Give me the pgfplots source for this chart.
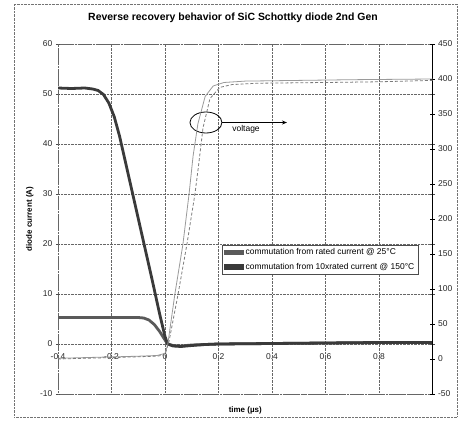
\documentclass[border=0pt]{standalone}
\usepackage{fontspec}
\setmainfont{Liberation Sans}
\usepackage{pgfplots}
\pgfplotsset{compat=1.18}
\usetikzlibrary{arrows.meta}

\definecolor{ratedcol}{HTML}{5A5A5A}
\definecolor{tencol}{HTML}{3A3A3A}
\definecolor{voltcol}{HTML}{9A9A9A}

\pgfplotsset{
  framebox/.style={
    at={(58bp,27bp)}, anchor=south west,
    width=374.5bp, height=350bp, scale only axis,
    xmin=-0.4, xmax=1.0,
    /pgf/number format/assume math mode=true,
    tick label style={font=\fontsize{8.5}{10}\selectfont, text=black!85},
  }
}

\begin{document}
\begin{tikzpicture}
\useasboundingbox (0bp,0bp) rectangle (460bp,421bp);
\draw[black!55, densely dotted] (14bp,4bp) rectangle (457bp,417bp);
\node[font=\fontsize{10.5}{12}\selectfont\bfseries] at (233bp,403bp)
  {Reverse recovery behavior of SiC Schottky diode 2nd Gen};

% diode current (left axis)
\begin{axis}[
  framebox,
  ymin=-10, ymax=60,
  ytick={-10,0,...,60},
  xtick={-0.4,-0.2,0,0.2,0.4,0.6,0.8,1.0},
  xticklabels={-0.4,-0.2,0,0.2,0.4,0.6,0.8,{}},
  xticklabel style={anchor=center, yshift=37bp},
  xtick style={draw=none},
  ytick align=center,
  ytick style={black!70},
  ymajorgrids, xmajorgrids,
  grid style={black!60, densely dotted, line width=0.5bp},
  axis line style={black!60, densely dotted, line width=0.5bp},
  ylabel={diode current (A)},
  ylabel style={at={(axis description cs:-0.075,0.5)}, anchor=center,
    font=\fontsize{8}{10}\selectfont\bfseries},
  xlabel={time (µs)},
  xlabel style={at={(axis description cs:0.5,-0.048)}, anchor=center,
    font=\fontsize{8}{10}\selectfont\bfseries},
  legend style={at={(0.438,0.426)}, anchor=north west,
    draw=black!70, line width=0.5bp, fill=white,
    font=\fontsize{8.5}{10}\selectfont,
    inner sep=1.5bp, row sep=3bp},
  legend cell align=left,
]
\addplot[ratedcol, line width=2.8bp,
  legend image code/.code={\fill[ratedcol] (0bp,-1.5bp) rectangle (17bp,1.5bp);}]
  coordinates {
  (-0.40,5.3) (-0.30,5.3) (-0.20,5.3) (-0.10,5.3) (-0.08,5.2) (-0.06,4.8)
  (-0.04,3.9) (-0.02,2.5) (0.00,0.8) (0.01,0.0) (0.03,-0.3) (0.06,-0.4)
  (0.10,-0.2) (0.15,-0.1) (0.20,0.0) (0.40,0.1) (0.60,0.2) (0.80,0.3) (1.00,0.3)
};
\addlegendentry{commutation from rated current @ 25°C}
\addplot[tencol, line width=2.8bp,
  legend image code/.code={\fill[tencol] (0bp,-1.5bp) rectangle (17bp,1.5bp);}]
  coordinates {
  (-0.40,51.2) (-0.35,51.1) (-0.30,51.2) (-0.27,51.0) (-0.25,50.7) (-0.23,49.9)
  (-0.21,48.2) (-0.19,45.5) (-0.17,41.6) (-0.15,36.9) (-0.10,25.1) (-0.05,13.3)
  (-0.02,6.0) (0.00,1.5) (0.01,0.0) (0.03,-0.4) (0.06,-0.5) (0.10,-0.3)
  (0.15,-0.1) (0.20,0.0) (0.40,0.1) (0.60,0.2) (0.80,0.3) (1.00,0.3)
};
\addlegendentry{commutation from 10xrated current @ 150°C}

% annotation of the voltage traces
\draw[black, line width=0.8bp] (axis cs:0.153,44.3) ellipse [x radius=16bp, y radius=10.5bp];
\draw[black, line width=1.1bp, -{Stealth[length=5bp,width=4bp]}]
  (axis cs:0.213,44.3) -- (axis cs:0.456,44.3);
\node[font=\fontsize{8.5}{10}\selectfont] at (axis cs:0.303,43.0) {voltage};
\end{axis}

% diode voltage (right axis)
\begin{axis}[
  framebox,
  ymin=-50, ymax=450,
  ytick={-50,0,...,450},
  axis y line*=right,
  axis x line=none,
  ytick align=center,
  axis line style={black, line width=0.6bp},
  ytick style={black},
]
\addplot[voltcol, line width=0.8bp] coordinates {
  (-0.40,1) (-0.30,2) (-0.20,3) (-0.10,4) (-0.03,5) (0.00,8) (0.01,20)
  (0.037,93) (0.067,164) (0.09,236) (0.105,290) (0.123,336) (0.15,375)
  (0.18,390) (0.22,395) (0.30,397) (0.50,398) (0.70,399) (1.00,400)
};
\addplot[voltcol!80!black, line width=0.8bp, densely dashed] coordinates {
  (-0.40,0) (-0.20,2) (-0.03,4) (0.00,6) (0.015,25) (0.049,93) (0.082,164)
  (0.112,236) (0.125,275) (0.142,330) (0.168,372) (0.205,388) (0.25,392)
  (0.35,394) (0.60,395) (0.80,396) (1.00,398)
};
\end{axis}
\end{tikzpicture}
\end{document}
